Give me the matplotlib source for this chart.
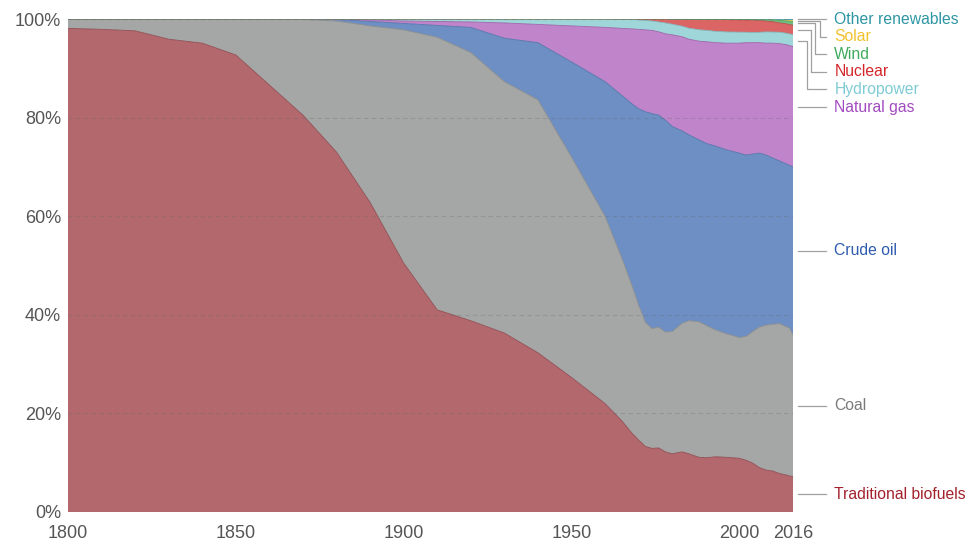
import numpy as np
import matplotlib.pyplot as plt

plt.rcParams['font.family'] = ['Liberation Sans', 'DejaVu Sans']

years = [1800, 1810, 1820, 1830, 1840, 1850, 1860, 1870, 1880, 1890, 1900, 1910,
         1920, 1930, 1940, 1950, 1960, 1965, 1968, 1970, 1972, 1974, 1976, 1978,
         1980, 1983, 1985, 1988, 1990, 1993, 1996, 2000, 2002, 2004, 2006, 2008,
         2010, 2012, 2014, 2015, 2016]

# shares of primary energy (%)
biofuels = [98.1, 97.9, 97.6, 95.9, 95.1, 92.7, 86.6, 80.5, 73.0, 62.8, 50.5, 41.0,
            38.8, 36.3, 32.3, 27.3, 22.0, 18.5, 16.0, 14.6, 13.3, 12.9, 13.0, 12.2,
            11.8, 12.2, 11.8, 11.1, 11.0, 11.2, 11.1, 10.9, 10.5, 9.9, 9.0, 8.5,
            8.3, 7.8, 7.5, 7.3, 7.2]
coal = [1.9, 2.1, 2.4, 4.1, 4.9, 7.3, 13.4, 19.4, 26.6, 35.8, 47.3, 55.3,
        54.4, 51.0, 51.3, 44.7, 38.0, 33.0, 30.0, 27.4, 25.2, 24.3, 24.5, 24.3,
        24.8, 26.1, 27.0, 27.5, 26.9, 25.7, 25.1, 24.5, 25.1, 26.7, 28.5, 29.4,
        29.8, 30.4, 30.1, 30.0, 28.7]
oil = [0, 0, 0, 0, 0, 0, 0, 0.1, 0.3, 0.9, 1.3, 2.4,
       5.1, 8.8, 11.6, 19.3, 27.3, 33.0, 36.8, 39.8, 42.7, 43.6, 43.0, 43.0,
       41.6, 39.0, 37.7, 36.9, 36.9, 37.3, 37.3, 37.4, 36.8, 36.0, 35.3, 34.5,
       33.7, 33.0, 33.0, 33.0, 34.1]
gas = [0, 0, 0, 0, 0, 0, 0, 0, 0.1, 0.3, 0.5, 0.8,
       1.1, 3.1, 3.7, 7.3, 11.0, 13.6, 15.2, 16.1, 16.6, 16.9, 16.9, 17.5,
       18.6, 19.1, 19.4, 20.0, 20.6, 21.0, 21.6, 22.3, 22.8, 22.6, 22.4, 22.7,
       23.3, 23.8, 24.2, 24.3, 24.4]
hydro = [0, 0, 0, 0, 0, 0, 0, 0, 0, 0.2, 0.4, 0.5,
         0.6, 0.8, 1.1, 1.4, 1.7, 1.85, 1.9, 1.9, 1.9, 1.9, 2.0, 2.2,
         2.15, 2.14, 2.23, 2.32, 2.3, 2.3, 2.28, 2.23, 2.11, 2.07, 2.1, 2.28,
         2.25, 2.31, 2.32, 2.36, 2.45]
nuclear = [0, 0, 0, 0, 0, 0, 0, 0, 0, 0, 0, 0,
           0, 0, 0, 0, 0, 0.05, 0.1, 0.2, 0.3, 0.4, 0.6, 0.8,
           1.0, 1.4, 1.8, 2.1, 2.2, 2.4, 2.5, 2.5, 2.5, 2.5, 2.4, 2.2,
           2.1, 1.9, 1.9, 1.9, 1.9]
wind = [0] * 30 + [0.02, 0.05, 0.07, 0.1, 0.15, 0.25, 0.35, 0.5, 0.6, 0.7, 0.75]
solar = [0] * 34 + [0.01, 0.02, 0.05, 0.12, 0.2, 0.25, 0.3]
other = [0] * 24 + [0.05, 0.06, 0.07, 0.08, 0.1, 0.1, 0.1, 0.12, 0.12, 0.13, 0.14,
                    0.15, 0.15, 0.17, 0.18, 0.19, 0.2]

names = ['Traditional biofuels', 'Coal', 'Crude oil', 'Natural gas', 'Hydropower',
         'Nuclear', 'Wind', 'Solar', 'Other renewables']
fills = ['#b3686d', '#a5a7a6', '#6d8fc4', '#c084cb', '#9fd6da',
         '#db6565', '#6dbf80', '#f3cf58', '#3fa3a8']
edges = ['#8e4a50', '#8a8c8b', '#5273a8', '#9b63a6', '#7fb5b9',
         '#b84a4a', '#4f9e62', '#d4ae37', '#2a8288']
text_colors = ['#a2212c', '#7b7b7b', '#2f5cb0', '#a24bc0', '#7fcbd3',
               '#d3262b', '#3faa5f', '#f2c12e', '#2e96a3']

data = np.array([biofuels, coal, oil, gas, hydro, nuclear, wind, solar, other], dtype=float)
data = data / data.sum(axis=0) * 100
tops = np.cumsum(data, axis=0)

fig = plt.figure(figsize=(9.68, 5.4), dpi=100)
ax = fig.add_axes([68 / 968, 1 - 512 / 540, (793 - 68) / 968, (512 - 19) / 540])

ax.stackplot(years, data, colors=fills, linewidth=0)
for i in range(len(names)):
    if data[i].max() > 0.5:
        ax.plot(years, tops[i], color=edges[i], lw=0.6)

ax.set_xlim(1800, 2016)
ax.set_ylim(0, 100)
for s in ax.spines.values():
    s.set_visible(False)
ax.set_yticks([0, 20, 40, 60, 80, 100])
ax.set_yticklabels(['0%', '20%', '40%', '60%', '80%', '100%'])
ax.set_xticks([1800, 1850, 1900, 1950, 2000, 2016])
ax.tick_params(length=0, labelsize=13, colors='#555555')
ax.tick_params(axis='x', pad=9)
ax.tick_params(axis='y', pad=5)
ax.grid(axis='y', color='#6a6a6a', ls=(0, (4, 3)), lw=0.8, alpha=0.3)
ax.set_axisbelow(False)
ax.xaxis.grid(False)

# labels at the right, pushed down from the top where they crowd
mids = tops - data / 2
end = mids[:, -1]
gap = 3.55
label_y = [0] * len(names)
prev = None
for i in range(len(names) - 1, -1, -1):
    y = end[i] if prev is None else min(end[i], prev - gap)
    label_y[i] = y
    prev = y

x0, x1, xt = 2017.5, 2025.9, 2028.3
k = 0
for i in range(len(names) - 1, -1, -1):
    y = label_y[i]
    if abs(y - end[i]) < 0.05:
        ax.plot([x0, x1], [y, y], color='#a0a0a0', lw=0.9, clip_on=False)
    else:
        xe = 2024.0 - 1.3 * k
        k += 1
        ax.plot([x0, xe, xe, x1], [end[i], end[i], y, y], color='#a0a0a0', lw=0.9,
                clip_on=False)
    ax.text(xt, y, names[i], color=text_colors[i], fontsize=11.3, va='center',
            ha='left', clip_on=False)

fig.savefig('out.png', dpi=100)
